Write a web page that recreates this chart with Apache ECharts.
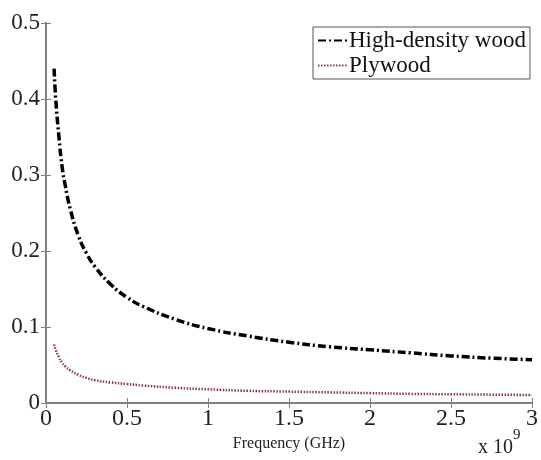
<!DOCTYPE html>
<html>
<head>
<meta charset="utf-8">
<script src="https://cdn.jsdelivr.net/npm/echarts@6/dist/echarts.min.js"></script>
<style>
  html, body { margin: 0; padding: 0; background: #fff; }
  #main { width: 541px; height: 460px; }
</style>
</head>
<body>
<div id="main"></div>
<script>
// frequency in units of 1e9 Hz
const freq = [0.05, 0.06, 0.08, 0.1, 0.12, 0.15, 0.2, 0.25, 0.3, 0.4, 0.5, 0.6, 0.8, 1.0, 1.25, 1.5, 1.75, 2.0, 2.25, 2.5, 2.75, 3.0];
const hdWood = [0.44, 0.40, 0.35, 0.31, 0.285, 0.255, 0.22, 0.197, 0.18, 0.156, 0.139, 0.127, 0.11, 0.098, 0.088, 0.08, 0.074, 0.07, 0.066, 0.062, 0.059, 0.057];
const plywood = [0.077, 0.07, 0.06, 0.053, 0.048, 0.043, 0.037, 0.033, 0.030, 0.027, 0.025, 0.023, 0.020, 0.018, 0.016, 0.015, 0.014, 0.013, 0.012, 0.0115, 0.011, 0.0105];
const seriesNames = ['High-density wood', 'Plywood'];

const serif = '"Liberation Serif", "Times New Roman", serif';
const axisGray = '#808080';

const chart = echarts.init(document.getElementById('main'));

const pairs = (ys) => freq.map((f, i) => [f, ys[i]]);

const baseAxis = {
  axisLine: { show: true, lineStyle: { color: axisGray, width: 2 } },
  axisTick: { show: true, inside: true, length: 5, lineStyle: { color: axisGray, width: 1 } },
  splitLine: { show: false }
};

chart.setOption({
  animation: false,
  grid: { left: 46, right: 5, top: 23, bottom: 57 },
  xAxis: [
    Object.assign({}, baseAxis, {
      type: 'value', min: 0, max: 3, interval: 0.5,
      name: 'Frequency (GHz)', nameLocation: 'middle', nameGap: 32,
      nameTextStyle: { fontFamily: serif, fontSize: 16, color: '#222' },
      axisLabel: { fontFamily: serif, fontSize: 24, color: '#222', margin: 4 }
    }),
    Object.assign({}, baseAxis, {
      type: 'value', min: 0, max: 3, interval: 0.5, position: 'top',
      axisLabel: { show: false }
    })
  ],
  yAxis: [
    Object.assign({}, baseAxis, {
      type: 'value', min: 0, max: 0.5, interval: 0.1,
      axisLabel: { fontFamily: serif, fontSize: 23, color: '#222', margin: 6 }
    }),
    Object.assign({}, baseAxis, {
      type: 'value', min: 0, max: 0.5, interval: 0.1, position: 'right',
      axisLabel: { show: false }
    })
  ],
  legend: {
    data: seriesNames,
    orient: 'vertical',
    left: 313, top: 27,
    padding: [2, 4, 2, 4],
    itemGap: 2,
    itemWidth: 30, itemHeight: 12,
    borderColor: '#555', borderWidth: 1,
    backgroundColor: '#fff',
    itemStyle: { opacity: 0 },
    textStyle: { fontFamily: serif, fontSize: 23, color: '#111', padding: [0, 0, 0, -4] }
  },
  series: [
    {
      name: seriesNames[0], type: 'line', data: pairs(hdWood),
      smooth: true, showSymbol: false, symbol: 'none',
      lineStyle: { color: '#000', width: 3.5, type: [8, 3, 2, 3] },
      itemStyle: { color: '#000' }
    },
    {
      name: seriesNames[1], type: 'line', data: pairs(plywood),
      smooth: true, showSymbol: false, symbol: 'none',
      lineStyle: { color: '#8b3a4e', width: 2.5, type: [1.5, 1.5] },
      itemStyle: { color: '#8b3a4e' }
    }
  ],
  graphic: [
    {
      type: 'text', left: 478, top: 428,
      style: {
        text: '{b|x 10}{s|9}',
        rich: {
          b: { fontFamily: serif, fontSize: 20, fill: '#222', verticalAlign: 'bottom', lineHeight: 30 },
          s: { fontFamily: serif, fontSize: 15, fill: '#222', verticalAlign: 'top', padding: [0, 0, 12, 0] }
        }
      }
    }
  ]
});
</script>
</body>
</html>
